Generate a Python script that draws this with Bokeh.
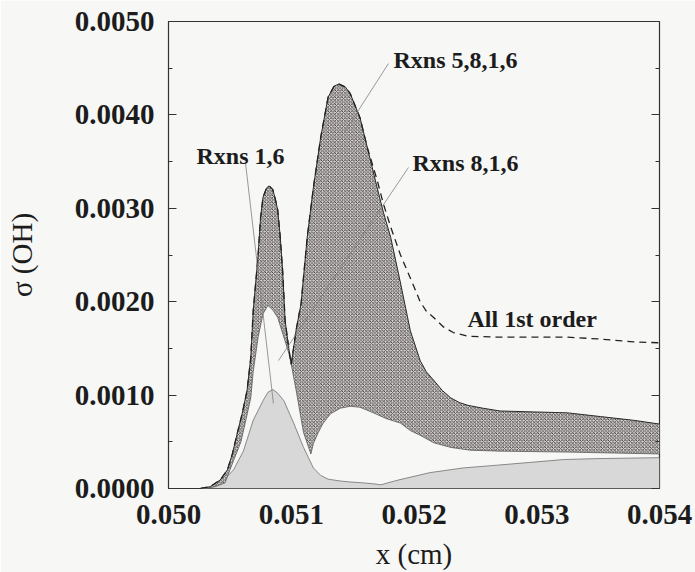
from bokeh.plotting import figure
from bokeh.models import FixedTicker, LinearAxis, Range1d
from bokeh.core.properties import value
from bokeh.embed import file_html
from bokeh.resources import INLINE

# ---- data (x in cm, sigma(OH)) ----
all_x = [0.05026, 0.05034, 0.05042, 0.05048, 0.05052, 0.05056, 0.0506, 0.05064, 0.05067, 0.05069,
         0.05073, 0.05075, 0.05077, 0.0508, 0.05082, 0.05085, 0.05087, 0.05089, 0.05091, 0.05093,
         0.05095, 0.05098, 0.05100, 0.05104, 0.05108, 0.05113, 0.05118, 0.05124, 0.05130, 0.05135,
         0.05139, 0.05144, 0.05148, 0.05156, 0.05162, 0.05170, 0.05175, 0.05181, 0.05189, 0.05200,
         0.05205, 0.0521, 0.05216, 0.05224, 0.05232, 0.05244, 0.0527, 0.05297, 0.05325, 0.05352,
         0.05379, 0.054]
all_y = [0.0, 0.00002, 0.00009, 0.0002, 0.00037, 0.00059, 0.0008, 0.00105, 0.0014, 0.0019,
         0.0025, 0.0029, 0.00312, 0.00322, 0.00324, 0.0032, 0.0031, 0.00298, 0.0027, 0.00233,
         0.0018, 0.0015, 0.00133, 0.0017, 0.00198, 0.00269, 0.00322, 0.00376, 0.00419, 0.00431,
         0.00433, 0.0043, 0.00423, 0.00397, 0.00365, 0.0033, 0.00305, 0.0028, 0.0025, 0.00216,
         0.0020, 0.0019, 0.00183, 0.00173, 0.00167, 0.00163, 0.00162, 0.00162, 0.00162, 0.0016,
         0.00157, 0.00156]

r5816_x = [0.05026, 0.05034, 0.05042, 0.05048, 0.05052, 0.05056, 0.0506, 0.05064, 0.05067, 0.05069,
           0.05073, 0.05075, 0.05077, 0.0508, 0.05082, 0.05085, 0.05087, 0.05089, 0.05091, 0.05093,
           0.05095, 0.05098, 0.05100, 0.05104, 0.05108, 0.05113, 0.05118, 0.05124, 0.05130, 0.05135,
           0.05139, 0.05144, 0.05148, 0.05156, 0.05162, 0.05170, 0.05175, 0.05181, 0.05189, 0.05197,
           0.05205, 0.0521, 0.05216, 0.05223, 0.0523, 0.05237, 0.05244, 0.05256, 0.0527, 0.05297,
           0.05325, 0.05352, 0.05379, 0.054]
r5816_y = [0.0, 0.00002, 0.00009, 0.0002, 0.00037, 0.00059, 0.0008, 0.00105, 0.0014, 0.0019,
           0.0025, 0.0029, 0.00312, 0.00322, 0.00324, 0.0032, 0.0031, 0.00298, 0.0027, 0.00233,
           0.0018, 0.0015, 0.00133, 0.0017, 0.00198, 0.00269, 0.00322, 0.00376, 0.00419, 0.00431,
           0.00433, 0.0043, 0.00423, 0.00397, 0.00365, 0.00322, 0.00296, 0.00269, 0.0022, 0.00169,
           0.00137, 0.00125, 0.00116, 0.00105, 0.00097, 0.00092, 0.00089, 0.00086, 0.00083, 0.00082,
           0.00081, 0.00077, 0.00073, 0.00069]

r816_x = [0.05030, 0.05038, 0.05046, 0.05053, 0.05059, 0.05063, 0.05067, 0.05069, 0.05073, 0.05077,
          0.05081, 0.05085, 0.05089, 0.05094, 0.05098, 0.05100, 0.05104, 0.05110, 0.05116, 0.05118,
          0.05122, 0.05126, 0.05132, 0.0514, 0.05148, 0.05156, 0.05167, 0.05177, 0.05189, 0.05197,
          0.05205, 0.05216, 0.0523, 0.05246, 0.0527, 0.05325, 0.054]
r816_y = [0.0, 0.00002, 0.00006, 0.0003, 0.0005, 0.00073, 0.00097, 0.00125, 0.00162, 0.00187,
          0.00196, 0.00191, 0.00183, 0.00162, 0.00145, 0.00133, 0.00105, 0.0006, 0.00037, 0.00048,
          0.0006, 0.0007, 0.0008, 0.00086, 0.00088, 0.00087, 0.00081, 0.00075, 0.0007, 0.00062,
          0.00057, 0.00049, 0.00044, 0.00041, 0.0004, 0.00039, 0.00037]

r16_x = [0.05026, 0.05034, 0.05045, 0.05053, 0.05061, 0.05069, 0.05077, 0.05081, 0.05085, 0.05089,
         0.05094, 0.05102, 0.0511, 0.05118, 0.05124, 0.0513, 0.0514, 0.05148, 0.05159, 0.05167,
         0.05173, 0.05187, 0.05213, 0.0524, 0.05268, 0.05295, 0.05322, 0.05349, 0.054]
r16_y = [0.0, 0.00001, 0.00009, 0.0002, 0.0004, 0.00073, 0.00094, 0.00103, 0.00106, 0.00102,
         0.00094, 0.0007, 0.00044, 0.00022, 0.00014, 0.0001, 0.00008, 0.00007, 0.00006, 0.00005,
         0.00004, 0.00009, 0.00017, 0.00022, 0.00025, 0.00028, 0.00031, 0.00032, 0.00033]

x_ticks = [0.050, 0.051, 0.052, 0.053, 0.054]
x_tick_labels = ["0.050", "0.051", "0.052", "0.053", "0.054"]
y_ticks = [0.0, 0.001, 0.002, 0.003, 0.004, 0.005]
y_tick_labels = ["0.0000", "0.0010", "0.0020", "0.0030", "0.0040", "0.0050"]
y_minor = [0.0005, 0.0015, 0.0025, 0.0035, 0.0045]

# annotation texts (left, baseline) and leader lines
ann_text = ["Rxns 1,6", "Rxns 5,8,1,6", "Rxns 8,1,6", "All 1st order"]
ann_x = [0.050228, 0.051833, 0.051988, 0.052436]
ann_y = [0.003565, 0.004593, 0.00349, 0.00182]
lead_x0 = [0.050627, 0.051792, 0.051955]
lead_y0 = [0.00349, 0.00455, 0.003437]
lead_x1 = [0.050855, 0.051426, 0.050896]
lead_y1 = [0.00091, 0.0038, 0.00137]

FONT = "Liberation Serif"
BG = "#f7f7f6"
INK = "#1c1c1c"

p = figure(width=695, height=572, x_range=Range1d(0.050, 0.054), y_range=Range1d(0.0, 0.005),
           output_backend="svg", toolbar_location=None,
           min_border_left=168, min_border_right=36, min_border_top=21, min_border_bottom=84)
p.background_fill_color = BG
p.border_fill_color = BG
p.outline_line_color = "#333333"
p.outline_line_width = 1.2
p.xgrid.visible = False
p.ygrid.visible = False

# gray area: Rxns 1,6
p.varea(x=r16_x, y1=[0.0] * len(r16_x), y2=r16_y, fill_color="#d8d8d8")
p.line(r16_x, r16_y, line_color="#707070", line_width=0.8)

# hatched band between Rxns 8,1,6 and Rxns 5,8,1,6
poly_x = r5816_x + r816_x[::-1]
poly_y = r5816_y + r816_y[::-1]
p.patch(poly_x, poly_y, fill_color="#d4d0d0", line_color=None,
        hatch_pattern="x", hatch_scale=3.5, hatch_weight=0.85, hatch_color="#3a3636")
p.line(r816_x, r816_y, line_color="#5a5a5a", line_width=0.8)
p.line(r5816_x, r5816_y, line_color="#2a2a2a", line_width=1.0)

# dashed: All 1st order
p.line(all_x, all_y, line_color="#222222", line_width=1.3, line_dash="7 5")

# leader lines
p.segment(x0=lead_x0, y0=lead_y0, x1=lead_x1, y1=lead_y1, line_color="#808080", line_width=0.8)

p.text(x=ann_x, y=ann_y, text=ann_text, text_font=value(FONT), text_font_style="bold",
       text_font_size="24px", text_color=INK, text_align="left", text_baseline="alphabetic")

# axes
xa = p.xaxis[0]
xa.ticker = FixedTicker(ticks=x_ticks)
xa.major_label_overrides = dict(zip(x_ticks, x_tick_labels))
xa.major_tick_line_color = None
xa.minor_tick_line_color = None
xa.axis_line_color = None
xa.major_label_standoff = 10
xa.major_label_text_font = FONT
xa.major_label_text_font_style = "bold"
xa.major_label_text_font_size = "29px"
xa.major_label_text_color = INK
xa.axis_label = "x (cm)"
xa.axis_label_text_font = FONT
xa.axis_label_text_font_style = "normal"
xa.axis_label_text_font_size = "29px"
xa.axis_label_text_color = INK
xa.axis_label_standoff = 11

ya = p.yaxis[0]
ya.ticker = FixedTicker(ticks=y_ticks, minor_ticks=y_minor)
ya.major_label_overrides = dict(zip(y_ticks, y_tick_labels))
ya.axis_line_color = None
ya.major_tick_in = 8
ya.major_tick_out = 0
ya.minor_tick_in = 4
ya.minor_tick_out = 0
ya.major_tick_line_color = "#333333"
ya.minor_tick_line_color = "#333333"
ya.major_label_standoff = 14
ya.major_label_text_font = FONT
ya.major_label_text_font_style = "bold"
ya.major_label_text_font_size = "29px"
ya.major_label_text_color = INK
ya.axis_label = "σ (OH)"
ya.axis_label_text_font = FONT
ya.axis_label_text_font_style = "normal"
ya.axis_label_text_font_size = "29px"
ya.axis_label_text_color = INK
ya.axis_label_standoff = 34

ra = LinearAxis(ticker=FixedTicker(ticks=y_ticks, minor_ticks=y_minor))
ra.axis_line_color = None
ra.major_tick_in = 8
ra.major_tick_out = 0
ra.minor_tick_in = 4
ra.minor_tick_out = 0
ra.major_tick_line_color = "#333333"
ra.minor_tick_line_color = "#333333"
ra.major_label_text_font_size = "0px"
ra.major_label_text_color = None
p.add_layout(ra, "right")

open("out.html", "w").write(file_html(p, INLINE))
